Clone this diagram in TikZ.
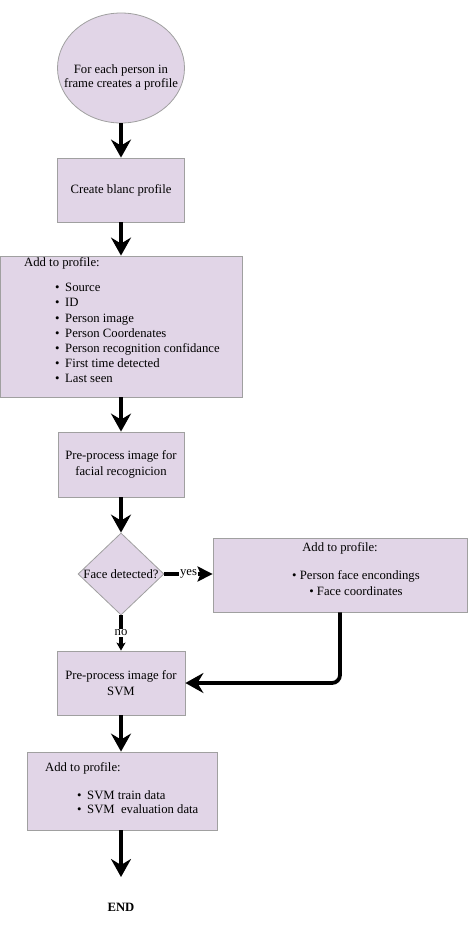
\documentclass[tikz,border=0pt]{standalone}
\usepackage{fontspec}
\setmainfont{Liberation Serif}
\usetikzlibrary{shapes.geometric,arrows.meta}
\definecolor{boxfill}{HTML}{E1D5E7}
\definecolor{boxline}{HTML}{A0A0A0}
\begin{document}
\begin{tikzpicture}[x=1pt,y=-1pt,
  box/.style={draw=boxline, fill=boxfill, line width=0.8pt, rectangle, inner sep=0pt, font=\fontsize{12.7}{15.5}\selectfont, align=center},
  txt/.style={font=\fontsize{12.7}{14}\selectfont, align=center, inner sep=0pt},
  listtxt/.style={font=\fontsize{12.7}{15.2}\selectfont, align=left, inner sep=0pt},
  flow/.style={line width=3.8pt, -{Stealth[length=18pt,width=20pt,inset=6pt]}},
  yesflow/.style={line width=3.8pt, -{Stealth[length=15pt,width=15pt,inset=3pt]}},
  smallflow/.style={line width=3.8pt, -{Stealth[length=8pt,width=9pt,inset=2pt]}},
  lbl/.style={font=\fontsize{12.7}{14}\selectfont, fill=white, inner sep=1pt}
]
\useasboundingbox (0,0) rectangle (471,939);

% start
\node[ellipse, draw=boxline, fill=boxfill, line width=0.8pt, minimum width=127pt, minimum height=110pt, inner sep=0pt] (start) at (121,68) {};
\node[txt] (startlbl) at (121,77) {For each person in\\frame creates a profile};

% blank profile
\node[box, minimum width=127pt, minimum height=64pt] (blank) at (121,190) {Create blanc profile};

% add 1
\node[box, minimum width=242pt, minimum height=141pt] (add1) at (121.5,326.5) {};
\node[txt, anchor=west] (add1h) at (24,263) {Add to profile:};
\node[listtxt, anchor=north west] (add1l) at (55,283) {\makebox[10pt][l]{•}Source\\
\makebox[10pt][l]{•}ID\\
\makebox[10pt][l]{•}Person image\\
\makebox[10pt][l]{•}Person Coordenates\\
\makebox[10pt][l]{•}Person recognition confidance\\
\makebox[10pt][l]{•}First time detected\\
\makebox[10pt][l]{•}Last seen};

% pre-process 1
\node[box, minimum width=126pt, minimum height=65pt] (pre1) at (121,464.5) {Pre-process image for\\facial recognicion};

% decision
\node[diamond, draw=boxline, fill=boxfill, line width=0.8pt, minimum width=86pt, minimum height=82pt, inner sep=0pt] (dec) at (121,574) {};
\node[txt] (declbl) at (121,574) {Face detected?};

% add 2
\node[box, minimum width=254pt, minimum height=74pt] (add2) at (340,575) {};
\node[txt] (add2h) at (340,548) {Add to profile:};
\node[txt, font=\fontsize{12.7}{16}\selectfont] (add2l) at (356,583) {• Person face encondings\\• Face coordinates};

% pre-process 2
\node[box, minimum width=128pt, minimum height=64pt] (pre2) at (121,683) {Pre-process image for\\SVM};

% add 3
\node[box, minimum width=190pt, minimum height=78pt] (add3) at (122,791) {};
\node[txt, anchor=west] (add3h) at (45,768) {Add to profile:};
\node[listtxt, font=\fontsize{12.7}{14}\selectfont, anchor=north west] (add3l) at (77,790) {\makebox[10pt][l]{•}SVM train data\\
\makebox[10pt][l]{•}SVM\ \ evaluation data};

% end
\node[font=\bfseries\fontsize{12.7}{14}\selectfont, inner sep=0pt] (end) at (121,907) {END};
\coordinate (endtip) at (121,877);

% connectors
\draw[flow] (start.south) -- (blank.north);
\draw[flow] (blank.south) -- (blank.south |- add1.north);
\draw[flow] (pre1.north |- add1.south) -- (pre1.north);
\draw[flow] (pre1.south) -- (dec.north);
\draw[yesflow] (dec.east) -- node[lbl] {yes} (add2.west |- dec.east);
\draw[smallflow] (dec.south) -- node[lbl] {no} (pre2.north);
\draw[flow, rounded corners=8pt] (add2.south) |- (pre2.east);
\draw[flow] (pre2.south) -- (pre2.south |- add3.north);
\draw[flow] (pre2.south |- add3.south) -- (endtip);
\end{tikzpicture}
\end{document}
